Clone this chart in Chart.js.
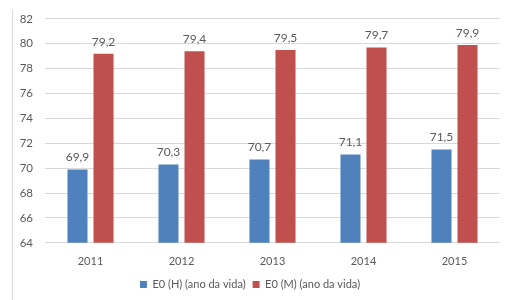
<!DOCTYPE html>
<html>
<head>
<meta charset="utf-8">
<script src="https://cdn.jsdelivr.net/npm/chart.js@4"></script>
<style>
  html, body { margin: 0; padding: 0; background: #fff; }
  #wrap { position: relative; width: 509px; height: 300px; }
</style>
</head>
<body>
<div id="wrap"><canvas id="c" width="509" height="300"></canvas></div>
<script>
const categories = ["2011", "2012", "2013", "2014", "2015"];
const seriesH = [69.9, 70.3, 70.7, 71.1, 71.5];
const seriesM = [79.2, 79.4, 79.5, 79.7, 79.9];
const seriesNames = ["E0 (H) (ano da vida)", "E0 (M) (ano da vida)"];
const yTicks = { min: 64, max: 82, step: 2 };

const FONT = "Lato, 'Liberation Sans', sans-serif";
const GREY = "#595959";

const valueLabels = {
  id: "valueLabels",
  afterDatasetsDraw(chart) {
    const ctx = chart.ctx;
    ctx.save();
    ctx.font = "12px " + FONT;
    ctx.fillStyle = GREY;
    ctx.textAlign = "center";
    ctx.textBaseline = "bottom";
    chart.data.datasets.forEach((ds, i) => {
      const meta = chart.getDatasetMeta(i);
      meta.data.forEach((bar, j) => {
        const txt = ds.data[j].toFixed(1).replace(".", ",");
        ctx.fillText(txt, bar.x, bar.y - 6);
      });
    });
    ctx.restore();
  }
};

const leftBorder = {
  id: "leftBorder",
  beforeDraw(chart) {
    const ctx = chart.ctx;
    ctx.save();
    ctx.strokeStyle = "#d9d9d9";
    ctx.lineWidth = 1;
    ctx.beginPath();
    ctx.moveTo(12.5, 10);
    ctx.lineTo(12.5, 300);
    ctx.stroke();
    ctx.restore();
  }
};

new Chart(document.getElementById("c"), {
  type: "bar",
  data: {
    labels: categories,
    datasets: [
      { label: seriesNames[0], data: seriesH, backgroundColor: "#4F81BD", categoryPercentage: 0.572, barPercentage: 0.77 },
      { label: seriesNames[1], data: seriesM, backgroundColor: "#C0504D", categoryPercentage: 0.572, barPercentage: 0.77 }
    ]
  },
  options: {
    responsive: false,
    animation: false,
    devicePixelRatio: 1,
    layout: { padding: { top: 17, right: 9, left: 0, bottom: 0 } },
    plugins: {
      tooltip: { enabled: false },
      legend: {
        position: "bottom",
        labels: {
          boxWidth: 7, boxHeight: 7, color: GREY,
          font: { family: FONT, size: 11 },
          padding: 7
        }
      }
    },
    scales: {
      x: {
        grid: { display: false },
        border: { display: false },
        ticks: { color: GREY, font: { family: FONT, size: 11 }, padding: 4 }
      },
      y: {
        min: yTicks.min, max: yTicks.max,
        afterFit(scale) { scale.width = 45; },
        ticks: { stepSize: yTicks.step, color: GREY, font: { family: FONT, size: 11.5 }, padding: 12 },
        grid: { color: "#d9d9d9", drawTicks: false, lineWidth: 1 },
        border: { display: false }
      }
    }
  },
  plugins: [valueLabels, leftBorder]
});
</script>
</body>
</html>
